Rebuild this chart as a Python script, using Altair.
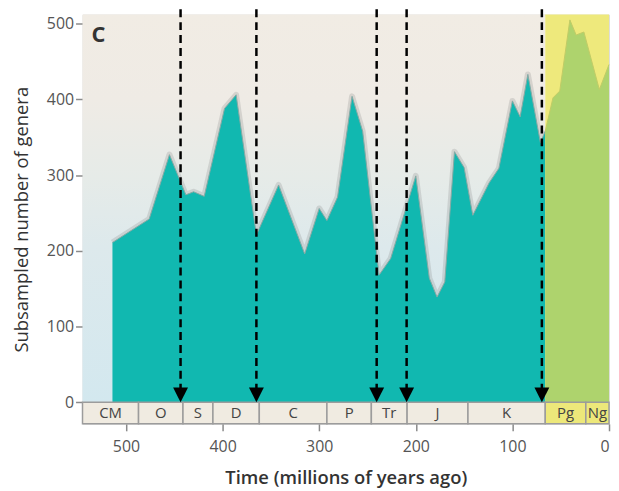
import altair as alt
import pandas as pd

# ---- data ----
teal_age = [514, 476, 455, 438, 430, 419, 398, 386, 365, 342, 315, 300, 292, 281,
            266, 255, 238, 226, 200, 186, 178, 170, 160, 150, 141, 124, 114, 100,
            92, 84, 71, 66]
teal_val = [211, 242, 327, 274, 278, 272, 388, 406, 221, 287, 196, 256, 240, 271,
            404, 358, 168, 190, 299, 164, 139, 159, 331, 310, 247, 290, 309, 398,
            377, 433, 343, 358]

green_age = [66, 58, 51, 40.5, 34, 26, 10, 0]
green_val = [358, 402, 411, 505, 485, 489, 413, 446]

period_names = ["CM", "O", "S", "D", "C", "P", "Tr", "J", "K", "Pg", "Ng"]
period_start = [545, 487, 441, 410, 362, 292, 246, 209, 146, 66, 24]
period_end = [487, 441, 410, 362, 292, 246, 209, 146, 66, 24, 0]
period_fill = ["#f0ebe1"] * 9 + ["#ede87a", "#ede87a"]

arrow_age = [443.5, 365, 240.5, 209.5, 69.5]

x_ticks = [500, 400, 300, 200, 100, 0]
y_ticks = [0, 100, 200, 300, 400, 500]

Y_MIN, Y_MAX = -28.4, 512
X_MAX = 545
FONT = "Open Sans"

teal = pd.DataFrame({"age": teal_age, "val": teal_val})
green = pd.DataFrame({"age": green_age, "val": green_val})
periods = pd.DataFrame({"name": period_names, "start": period_start,
                        "end": period_end, "fill": period_fill})
periods["mid"] = (periods["start"] + periods["end"]) / 2
arrows = pd.DataFrame({"age": arrow_age})
bg = pd.DataFrame({"x": [X_MAX], "x2": [66], "y": [0], "y2": [Y_MAX]})
yel = pd.DataFrame({"x": [66], "x2": [0], "y": [0], "y2": [Y_MAX]})

xs = alt.Scale(domain=[0, X_MAX], reverse=True, nice=False, zero=False)
ys = alt.Scale(domain=[Y_MIN, Y_MAX], nice=False, zero=False)

xaxis = alt.Axis(values=x_ticks, title="Time (millions of years ago)", grid=False,
                 tickSize=7, labelPadding=8, titlePadding=14, domain=False,
                 tickColor="#8a8a8a", tickWidth=1.5, labelColor="#555",
                 labelFontSize=16, labelFont=FONT, titleFont=FONT,
                 titleFontSize=18.5, titleFontWeight=600, titleColor="#333",
                 format="d")
yaxis = alt.Axis(values=y_ticks, title="Subsampled number of genera", grid=False,
                 tickSize=7, labelPadding=2, titlePadding=15, domain=False,
                 tickColor="#8a8a8a", tickWidth=1.5, labelColor="#555",
                 labelFontSize=16, labelFont=FONT, titleFont=FONT,
                 titleFontSize=18.5, titleFontWeight=500, titleColor="#333",
                 format="d")

grad = alt.Gradient(
    gradient="linear", x1=0, x2=0, y1=0, y2=1,
    stops=[alt.GradientStop(offset=0, color="#f1ece4"),
           alt.GradientStop(offset=0.22, color="#efebe5"),
           alt.GradientStop(offset=0.42, color="#e6ebe8"),
           alt.GradientStop(offset=0.6, color="#dde9ec"),
           alt.GradientStop(offset=1, color="#d3e8ef")])

bg_layer = alt.Chart(bg).mark_rect(color=grad).encode(
    x=alt.X("x:Q", scale=xs, axis=xaxis), x2="x2:Q",
    y=alt.Y("y:Q", scale=ys, axis=yaxis), y2="y2:Q")

yel_layer = alt.Chart(yel).mark_rect(color="#eee97c").encode(
    x=alt.X("x:Q", scale=xs), x2="x2:Q",
    y=alt.Y("y:Q", scale=ys), y2="y2:Q")

shadow = alt.Chart(teal).mark_line(color="#7a7a7a", strokeWidth=6, opacity=0.22,
                                   strokeJoin="round").encode(
    x=alt.X("age:Q", scale=xs), y=alt.Y("val:Q", scale=ys))

teal_area = alt.Chart(teal).mark_area(color="#11b8b0", opacity=1,
                                      line={"color": "#86a9a4", "strokeWidth": 1}).encode(
    x=alt.X("age:Q", scale=xs), y=alt.Y("val:Q", scale=ys), y2=alt.datum(0))

green_area = alt.Chart(green).mark_area(color="#aed36d", opacity=1,
                                        line={"color": "#c2cc66", "strokeWidth": 1}).encode(
    x=alt.X("age:Q", scale=xs), y=alt.Y("val:Q", scale=ys), y2=alt.datum(0))

period_rects = alt.Chart(periods).mark_rect(stroke="#9c9c9c", strokeWidth=1.5).encode(
    x=alt.X("start:Q", scale=xs), x2="end:Q",
    y=alt.datum(Y_MIN), y2=alt.datum(0),
    fill=alt.Fill("fill:N", scale=None))

period_text = alt.Chart(periods).mark_text(font=FONT, fontSize=15, color="#444",
                                           baseline="middle").encode(
    x=alt.X("mid:Q", scale=xs), y=alt.datum(Y_MIN / 2), text="name:N")

rules = alt.Chart(arrows).mark_rule(color="black", strokeWidth=2.5,
                                    strokeDash=[8, 5]).encode(
    x=alt.X("age:Q", scale=xs), y=alt.datum(Y_MAX + 7), y2=alt.datum(18))

heads = alt.Chart(arrows).mark_point(shape="M-1,-1L1,-1L0,1Z", size=225,
                                     filled=True, color="black", opacity=1,
                                     yOffset=-7.5).encode(
    x=alt.X("age:Q", scale=xs), y=alt.datum(0))

label_c = alt.Chart(pd.DataFrame({"t": ["C"]})).mark_text(
    font=FONT, fontSize=22, fontWeight="bold", color="#333", align="left",
    baseline="alphabetic").encode(x=alt.value(9), y=alt.value(28), text="t:N")

chart = alt.layer(bg_layer, yel_layer, shadow, teal_area, green_area,
                  period_rects, period_text, rules, heads, label_c).properties(
    width=530, height=412,
    padding={"left": 75, "top": 5, "right": 2, "bottom": 66},
    autosize=alt.AutoSizeParams(type="none"),
).configure_view(stroke="#a3a3a3", strokeWidth=2).configure(background="white")

chart.save("out.html", embed_options={"renderer": "svg", "actions": False})
